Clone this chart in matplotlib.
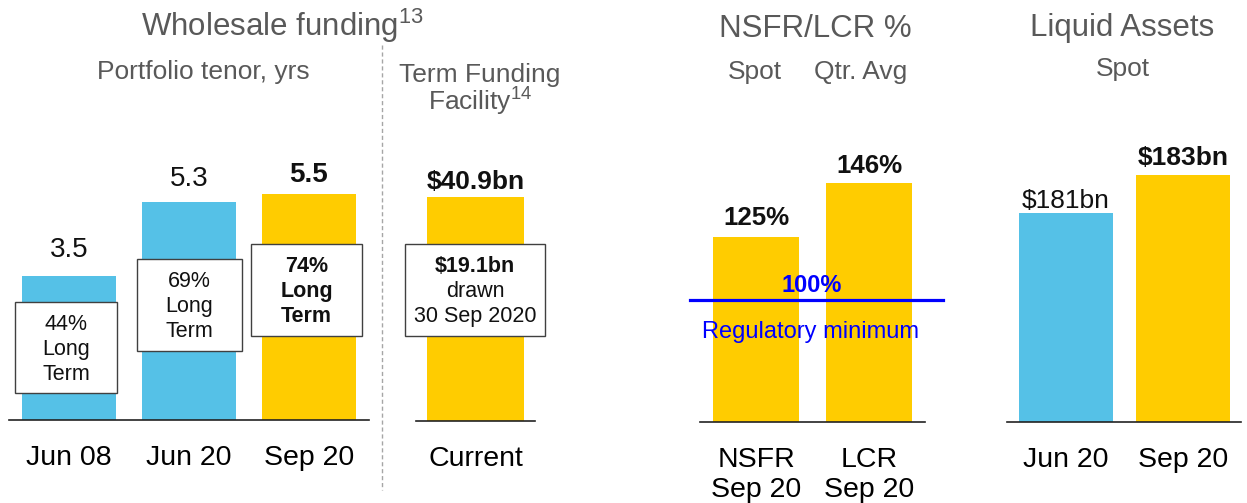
import matplotlib
matplotlib.use("Agg")
import matplotlib.pyplot as plt
from matplotlib.patches import Rectangle
from matplotlib.lines import Line2D
from matplotlib.transforms import Affine2D

plt.rcParams.update({
    "font.family": "Liberation Sans",
    "mathtext.fontset": "custom",
    "mathtext.rm": "Liberation Sans",
    "mathtext.bf": "Liberation Sans:bold",
})

# --- data ---
tenor_labels = ["Jun 08", "Jun 20", "Sep 20"]
tenor_yrs = [3.5, 5.3, 5.5]
long_term_pct = [44, 69, 74]

tff_labels = ["Current"]
tff_size_bn = [40.9]
tff_drawn_bn = 19.1

ratio_labels = ["NSFR\nSep 20", "LCR\nSep 20"]
ratio_pct = [125, 146]
reg_min_pct = 100

liquid_labels = ["Jun 20", "Sep 20"]
liquid_bn = [181, 183]

BLUE = "#55C1E7"
YELLOW = "#FFCC00"
GREY = "#595959"

W, H = 1247, 503
fig = plt.figure(figsize=(W / 100, H / 100), dpi=100)
# pixel coords, origin top-left
pix = Affine2D().scale(1 / W, -1 / H).translate(0, 1) + fig.transFigure


def panel(x0, x1, base, top):
    ax = fig.add_axes([x0 / W, (H - base) / H, (x1 - x0) / W, (base - top) / H])
    for s in ["top", "right", "left"]:
        ax.spines[s].set_visible(False)
    ax.spines["bottom"].set_color("#222222")
    ax.spines["bottom"].set_linewidth(1.2)
    ax.set_yticks([])
    ax.tick_params(axis="x", length=0, labelsize=20.5, pad=18)
    ax.patch.set_alpha(0)
    return ax


def value_labels(ax, vals, texts, offsets, bolds, size):
    for i, (v, t, off, b) in enumerate(zip(vals, texts, offsets, bolds)):
        ax.annotate(t, (i, v), xytext=(0, off), textcoords="offset points",
                    ha="center", va="center", fontsize=size,
                    fontweight="bold" if b else "normal", color="#111111")


def note_box(x0, y0, x1, y1, lines):
    fig.add_artist(Rectangle((x0, y1), x1 - x0, y0 - y1, transform=pix,
                             facecolor="white", edgecolor="#404040", lw=1.0))
    yc = (y0 + y1) / 2
    for dy, (t, b) in zip([-23, 2, 27], lines):
        fig.text((x0 + x1) / 2, yc + dy, t, transform=pix, ha="center", va="center",
                 fontsize=15.5, fontweight="bold" if b else "normal", color="#111111")


# --- Wholesale funding: portfolio tenor ---
ax1 = panel(9, 369, 420, 150)
x1 = list(range(len(tenor_yrs)))
ax1.bar(x1, tenor_yrs, width=0.78, color=[BLUE, BLUE, YELLOW])
ax1.set_xlim(-0.5, 2.5)
ax1.set_ylim(0, 6.57)
ax1.set_xticks(x1, tenor_labels)
value_labels(ax1, tenor_yrs, [f"{v:.1f}" for v in tenor_yrs], [18.5, 17, 14],
             [False, False, True], 20)

boxes1 = [(15, 302, 117, 393), (137, 259, 242, 351), (251, 244, 362, 336)]
for i, (bx, pct) in enumerate(zip(boxes1, long_term_pct)):
    b = i == 2
    note_box(*bx, [(f"{pct}%", b), ("Long", b), ("Term", b)])

# --- Term Funding Facility ---
ax2 = panel(416, 535, 421, 150)
ax2.bar([0], tff_size_bn, width=0.807, color=YELLOW)
ax2.set_xlim(-0.5, 0.5)
ax2.set_ylim(0, 49.5)
ax2.set_xticks([0], tff_labels)
value_labels(ax2, tff_size_bn, [f"${v}bn" for v in tff_size_bn], [11], [True], 19)
note_box(405, 244, 545, 336, [(f"${tff_drawn_bn}bn", True), ("drawn", False),
                              ("30 Sep 2020", False)])

# --- NSFR / LCR ---
ax3 = panel(700, 925, 422, 150)
ax3.bar([0, 1], ratio_pct, width=0.76, color=YELLOW)
ax3.set_xlim(-0.496, 1.496)
ax3.set_ylim(52.5, 52.5 + 272 / 2.558)
ax3.set_xticks([0, 1], ratio_labels)
value_labels(ax3, ratio_pct, [f"{v}%" for v in ratio_pct], [13, 12], [True, True], 18.6)
ax3.axhline(reg_min_pct, xmin=-0.044, xmax=1.08, clip_on=False, color="#0000FF", lw=2.3)
ax3.annotate(f"{reg_min_pct}%", (0.49, reg_min_pct), xytext=(0, 11),
             textcoords="offset points", ha="center", va="center", fontsize=17,
             fontweight="bold", color="#0000FF")
ax3.annotate("Regulatory minimum", (0.48, reg_min_pct), xytext=(0, -22.5),
             textcoords="offset points", ha="center", va="center", fontsize=17,
             color="#0000FF")

# --- Liquid assets ---
ax4 = panel(1007, 1241, 422, 150)
ax4.bar([0, 1], liquid_bn, width=0.80, color=[BLUE, YELLOW])
ax4.set_xlim(-0.504, 1.496)
ax4.set_ylim(170, 170 + 272 / 19)
ax4.set_xticks([0, 1], liquid_labels)
value_labels(ax4, liquid_bn, [f"${v}bn" for v in liquid_bn], [9, 12], [False, True], 19)

# --- headings ---
def heading(x, y, t, size, **kw):
    fig.text(x, y, t, transform=pix, ha="center", va="baseline", fontsize=size,
             color=GREY, **kw)

heading(282, 36, "Wholesale funding$^{13}$", 22.5)
heading(203, 79, "Portfolio tenor, yrs", 19)
heading(480, 110, "Term Funding\nFacility$^{14}$", 19, linespacing=0.9,
        multialignment="center")
heading(815, 37, "NSFR/LCR %", 22.5)
heading(755, 79, "Spot", 19)
heading(861, 79, "Qtr. Avg", 19)
heading(1122, 36, "Liquid Assets", 22.5)
heading(1123, 76, "Spot", 19)

fig.add_artist(Line2D([382, 382], [45, 490], transform=pix, color="#A6A6A6",
                      lw=1.0, ls=(0, (3, 2))))

fig.savefig("out.png", dpi=100)
